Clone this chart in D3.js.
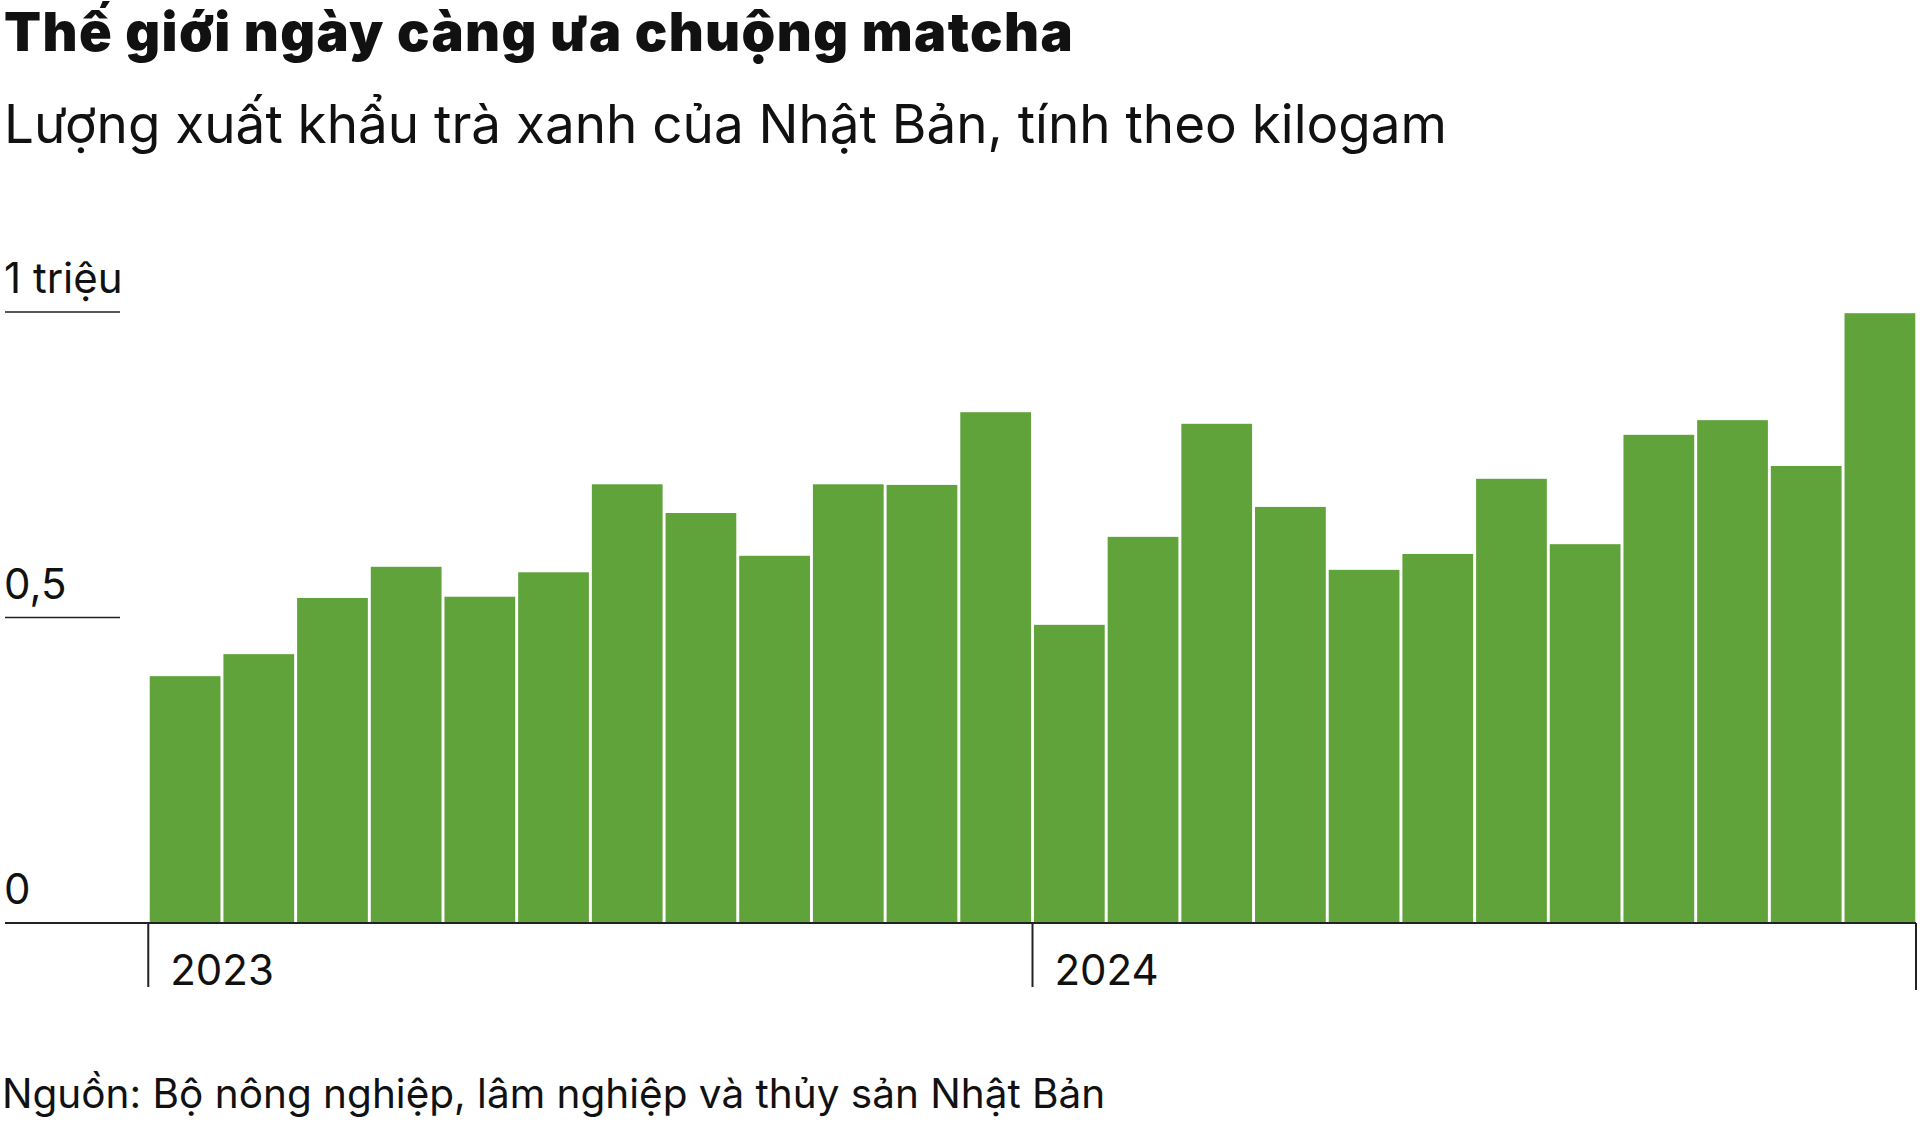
<!DOCTYPE html>
<html>
<head>
	<meta charset="utf-8">
	<title>Thế giới ngày càng ưa chuộng matcha</title>
	<script src="https://d3js.org/d3.v7.min.js"></script>
	<style>
		html, body { margin: 0; padding: 0; background: #fff; }
		svg text { font-family: Inter, "Noto Sans", sans-serif; fill: #111; }
	</style>
</head>
<body>
	<div class="chart"></div>

	<script type="text/javascript">

		// Tháng (01/2023 - 12/2024)
		const months = ['2023-01', '2023-02', '2023-03', '2023-04', '2023-05', '2023-06',
			'2023-07', '2023-08', '2023-09', '2023-10', '2023-11', '2023-12',
			'2024-01', '2024-02', '2024-03', '2024-04', '2024-05', '2024-06',
			'2024-07', '2024-08', '2024-09', '2024-10', '2024-11', '2024-12']

		// Lượng xuất khẩu, triệu kg
		const exports = [0.404, 0.440, 0.532, 0.583, 0.534, 0.574,
			0.718, 0.671, 0.601, 0.718, 0.717, 0.836,
			0.488, 0.632, 0.817, 0.681, 0.578, 0.604,
			0.727, 0.620, 0.799, 0.823, 0.748, 0.998]

		const yTicks = [0, 0.5, 1]
		const yTickLabels = ['0', '0,5', '1 triệu']

		const years = ['2023', '2024']
		const yearStarts = ['2023-01', '2024-01']

		const width = 1920
		const height = 1122

		const svg = d3
			.select('.chart')
			.append('svg')
			.attr('width', width)
			.attr('height', height)

		/**
		 * Tiêu đề
		 */
		svg.append('text')
			.attr('x', 4)
			.attr('y', 51)
			.style('font-size', '54px')
			.style('font-weight', 900)
			.style('letter-spacing', '1.4px')
			.text('Thế giới ngày càng ưa chuộng matcha')

		svg.append('text')
			.attr('x', 4)
			.attr('y', 143)
			.style('font-size', '53px')
			.text('Lượng xuất khẩu trà xanh của Nhật Bản, tính theo kilogam')

		svg.append('text')
			.attr('x', 2)
			.attr('y', 1108)
			.style('font-size', '40.5px')
			.text('Nguồn: Bộ nông nghiệp, lâm nghiệp và thủy sản Nhật Bản')

		/**
		 * Thang đo
		 */
		const x = d3.scaleBand()
			.domain(months)
			.range([149, 1916])
			.paddingInner(0.04)
			.paddingOuter(0.01)

		const y = d3.scaleLinear()
			.domain([0, 1])
			.range([923, 312])

		// Trục y: nhãn và đoạn kẻ ngắn
		const yAxis = svg.append('g').attr('class', 'y-axis')
		const yt = yAxis.selectAll('g')
			.data(yTicks)
			.enter()
			.append('g')

		yt.filter((d) => d > 0)
			.append('line')
			.attr('x1', 5)
			.attr('x2', 120)
			.attr('y1', (d) => y(d))
			.attr('y2', (d) => y(d))
			.attr('stroke', '#222')
			.attr('stroke-width', 1.5)

		yt.append('text')
			.attr('x', 4)
			.attr('y', (d) => y(d) - 19)
			.style('font-size', '42px')
			.text((d, i) => yTickLabels[i])

		/**
		 * Cột
		 */
		svg.append('g')
			.selectAll('rect')
			.data(exports)
			.enter()
			.append('rect')
			.attr('x', (d, i) => x(months[i]))
			.attr('y', (d) => y(d))
			.attr('width', x.bandwidth())
			.attr('height', (d) => y(0) - y(d))
			.attr('fill', '#5fa33a')

		// Đường đáy
		svg.append('line')
			.attr('x1', 5)
			.attr('x2', 1916)
			.attr('y1', y(0))
			.attr('y2', y(0))
			.attr('stroke', '#222')
			.attr('stroke-width', 2)

		// Vạch năm
		const xAxis = svg.append('g').attr('class', 'x-axis')
		const yearX = (i) => x(yearStarts[i]) - x.step() * x.paddingInner() / 2

		xAxis.selectAll('line.year')
			.data(years)
			.enter()
			.append('line')
			.attr('class', 'year')
			.attr('x1', (d, i) => yearX(i))
			.attr('x2', (d, i) => yearX(i))
			.attr('y1', y(0))
			.attr('y2', y(0) + 64)
			.attr('stroke', '#222')
			.attr('stroke-width', 2)

		xAxis.append('line')
			.attr('x1', 1916)
			.attr('x2', 1916)
			.attr('y1', y(0))
			.attr('y2', y(0) + 67)
			.attr('stroke', '#222')
			.attr('stroke-width', 2)

		xAxis.selectAll('text')
			.data(years)
			.enter()
			.append('text')
			.attr('x', (d, i) => yearX(i) + 22)
			.attr('y', y(0) + 62)
			.style('font-size', '42px')
			.text((d) => d)

	</script>
</body>
</html>
